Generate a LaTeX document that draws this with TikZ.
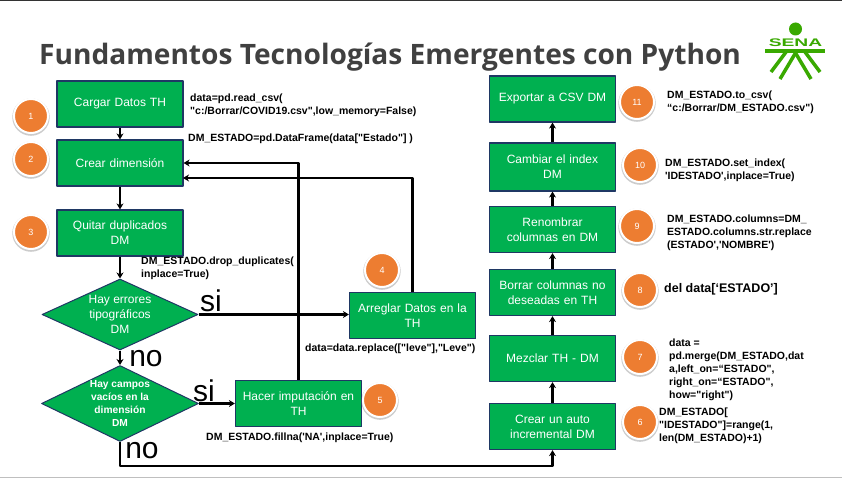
\documentclass[tikz,border=0pt]{standalone}
\usepackage{fontspec}
\setmainfont{Liberation Sans}
\newfontfamily\titlefont{Open Sans}
\newfontfamily\codefont{Liberation Sans}
\usetikzlibrary{shapes.geometric,shadows,arrows.meta}
\definecolor{verde}{HTML}{00B050}
\definecolor{borde}{HTML}{1F3864}
\definecolor{naranja}{HTML}{ED7D31}
\definecolor{sena}{HTML}{39A900}
\definecolor{titulo}{HTML}{404040}
\begin{document}
\begin{tikzpicture}[x=1pt,y=-1pt,line join=round,
	caja/.style={draw=borde,line width=1.2pt,fill=verde,text=white,font=\fontsize{12}{15}\selectfont,minimum width=126pt,minimum height=46pt,text width=120pt,align=center,inner sep=0pt},
	rombo/.style={diamond,draw=borde,line width=1pt,fill=verde,text=white,aspect=2.05,inner sep=0pt,align=center},
	num/.style={circle,fill=naranja,draw=white,line width=2pt,minimum size=34pt,inner sep=0pt,text=white,font=\fontsize{9}{9}\selectfont,drop shadow={shadow scale=1.1,shadow xshift=0pt,shadow yshift=-1pt,opacity=0.4}},
	codigo/.style={anchor=north west,inner sep=0pt,align=left,text=black,font=\codefont\fontsize{10.5}{13}\selectfont\bfseries},
	grande/.style={inner sep=0pt,text=black,font=\fontsize{30}{30}\selectfont},
	flecha/.style={line width=2.4pt,-{Stealth[length=6pt,width=7pt]}}]
	\useasboundingbox (0,0) rectangle (842,478);
	\fill[white] (0,0) rectangle (842,478);
	\fill[black!80] (0,0) rectangle (842,1);
	\fill[black!25] (0,477) rectangle (842,478);
	\node[anchor=base west,inner sep=0pt,text=titulo,font=\titlefont\fontsize{28.1}{30}\selectfont\bfseries] (T) at (39,65) {Fundamentos Tecnologías Emergentes con Python};
	\node[caja] (cargar) at (120,104) {Cargar Datos TH};
	\node[caja] (crear) at (120,163) {Crear dimensión};
	\node[caja] (quitar) at (120,233) {Quitar duplicados\\DM};
	\node[rombo,minimum width=156pt,minimum height=71pt,font=\fontsize{12}{15}\selectfont] (err) at (120,314.5) {Hay errores\\tipográficos\\DM};
	\node[rombo,minimum width=157pt,minimum height=76pt,font=\fontsize{10.2}{12.7}\selectfont\bfseries] (vac) at (120,403.5) {Hay campos\\vacíos en la\\dimensión\\DM};
	\node[caja] (arr) at (412.5,315.5) {Arreglar Datos en la\\TH};
	\node[caja] (imp) at (298.5,403.5) {Hacer imputación en\\TH};
	\node[caja] (exp) at (552.5,99) {Exportar a CSV DM};
	\node[caja,minimum height=48pt] (ind) at (552.5,167) {Cambiar el index\\DM};
	\node[caja] (ren) at (552.5,229.5) {Renombrar\\columnas en DM};
	\node[caja] (bor) at (552.5,292.5) {Borrar columnas no\\deseadas en TH};
	\node[caja] (mez) at (552.5,358.5) {Mezclar TH - DM};
	\node[caja] (aut) at (552.5,426.5) {Crear un auto\\incremental DM};
	\coordinate (C) at (183,178);
	\coordinate (S) at (120,466);
	\draw[flecha] (cargar) -- (crear);
	\draw[flecha] (crear) -- (quitar);
	\draw[flecha] (quitar) -- (err);
	\draw[flecha] (err) -- (vac);
	\draw[flecha] (err.east) -- (err.east -| arr.west);
	\draw[flecha] (vac) -- (imp);
	\draw[flecha] (imp.north) |- (crear.east);
	\draw[flecha] (arr.north) |- (C);
	\draw[flecha] (vac.south) -- (S) -| (aut.south);
	\draw[flecha] (aut) -- (mez);
	\draw[flecha] (mez) -- (bor);
	\draw[flecha] (bor) -- (ren);
	\draw[flecha] (ren) -- (ind);
	\draw[flecha] (ind) -- (exp);
	\node[num] (n1) at (31,116) {1};
	\node[num] (n2) at (31,159) {2};
	\node[num] (n3) at (31,232) {3};
	\node[num] (n4) at (382,270) {4};
	\node[num] (n5) at (380,400) {5};
	\node[num] (n6) at (640,422) {6};
	\node[num] (n7) at (640,357) {7};
	\node[num] (n8) at (640,290) {8};
	\node[num] (n9) at (637,226) {9};
	\node[num] (n10) at (640,165) {10};
	\node[num] (n11) at (637,102) {11};
	\node[codigo] (c1) at (190,94) {data=pd.read\_csv(\\"c:/Borrar/COVID19.csv",low\_memory=False)};
	\node[codigo] (c2) at (188,134) {DM\_ESTADO=pd.DataFrame(data["Estado"] )};
	\node[codigo] (c3) at (141,257) {DM\_ESTADO.drop\_duplicates(\\inplace=True)};
	\node[codigo] (c4) at (305,344) {data=data.replace(["leve"],"Leve")};
	\node[codigo] (c5) at (206,433) {DM\_ESTADO.fillna('NA',inplace=True)};
	\node[codigo] (c6) at (659,408) {DM\_ESTADO[\\"IDESTADO"]=range(1,\\len(DM\_ESTADO)+1)};
	\node[codigo] (c7) at (669,339) {data =\\pd.merge(DM\_ESTADO,dat\\a,left\_on=“ESTADO",\\right\_on=“ESTADO",\\how="right")};
	\node[codigo,font=\codefont\fontsize{12.5}{14}\selectfont\bfseries] (c8) at (664,283) {del data[‘ESTADO’]};
	\node[codigo] (c9) at (667,215) {DM\_ESTADO.columns=DM\_\\ESTADO.columns.str.replace\\(ESTADO','NOMBRE')};
	\node[codigo] (c10) at (665,159) {DM\_ESTADO.set\_index(\\'IDESTADO',inplace=True)};
	\node[codigo] (c11) at (667,91) {DM\_ESTADO.to\_csv(\\“c:/Borrar/DM\_ESTADO.csv")};
	\node[grande] (si1) at (211,301) {si};
	\node[grande] (no1) at (146,358.5) {no};
	\node[grande] (si2) at (204,391) {si};
	\node[grande] (no2) at (142,450.5) {no};
	\fill[sena] (795.5,29) circle (6.5);
	\node[inner sep=0pt,text=sena,font=\fontsize{11}{11}\selectfont\bfseries,xscale=1.75] (L) at (795.5,43) {SENA};
	\fill[sena] (765,49) -- (825,49) -- (825,53) -- (765,53) -- cycle;
	\draw[sena,line width=3.5pt] (795.5,53) -- (780,79);
	\draw[sena,line width=3.5pt] (795.5,53) -- (811,79);
	\draw[sena,line width=3.5pt] (786,52) -- (771,72);
	\draw[sena,line width=3.5pt] (805,52) -- (820,72);
\end{tikzpicture}
\end{document}
